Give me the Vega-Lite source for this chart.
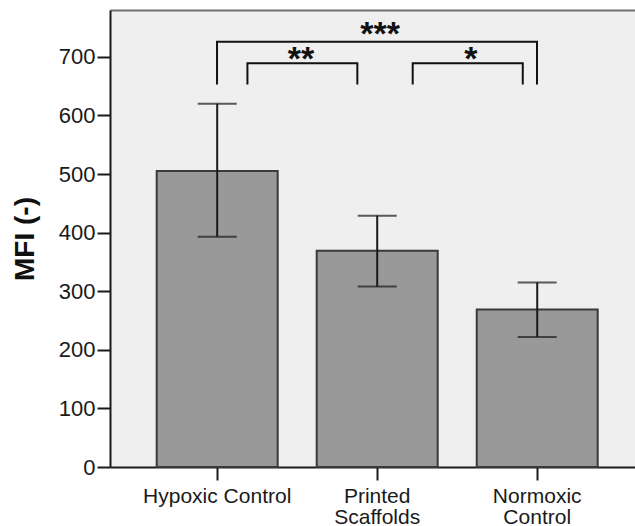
{
  "$schema": "https://vega.github.io/schema/vega-lite/v6.json",
  "width": 525,
  "height": 457,
  "autosize": {"type": "none"},
  "padding": {"left": 110, "top": 10, "right": 0, "bottom": 59},
  "background": "white",
  "config": {
    "view": {"fill": "#efefef", "stroke": null},
    "font": "Liberation Sans",
    "axisY": {
      "domainColor": "#1a1a1a", "domainWidth": 2,
      "tickColor": "#1a1a1a", "tickWidth": 2, "tickSize": 13,
      "labelFontSize": 22, "labelColor": "#1a1a1a", "labelPadding": 2,
      "grid": false,
      "titleFontSize": 28, "titleFontWeight": "bold", "titleColor": "#111111",
      "titleAngle": -90, "titleX": -85, "titleY": 228.5,
      "titleAlign": "center", "titleBaseline": "middle"
    }
  },
  "datasets": {
    "groups": [
      {"group": "Hypoxic Control", "mean": 505, "lo": 393, "hi": 620},
      {"group": "Printed Scaffolds", "mean": 369, "lo": 308, "hi": 429},
      {"group": "Normoxic Control", "mean": 269, "lo": 222, "hi": 315}
    ],
    "brackets": [
      {"bracket": "a", "ord": 1, "x": 0, "y": 653},
      {"bracket": "a", "ord": 2, "x": 0, "y": 726},
      {"bracket": "a", "ord": 3, "x": 2, "y": 726},
      {"bracket": "a", "ord": 4, "x": 2, "y": 653},
      {"bracket": "b", "ord": 1, "x": 0.19, "y": 653},
      {"bracket": "b", "ord": 2, "x": 0.19, "y": 689},
      {"bracket": "b", "ord": 3, "x": 0.877, "y": 689},
      {"bracket": "b", "ord": 4, "x": 0.877, "y": 653},
      {"bracket": "c", "ord": 1, "x": 1.223, "y": 653},
      {"bracket": "c", "ord": 2, "x": 1.223, "y": 689},
      {"bracket": "c", "ord": 3, "x": 1.911, "y": 689},
      {"bracket": "c", "ord": 4, "x": 1.911, "y": 653}
    ],
    "stars": [
      {"label": "***", "x": 1.019, "y": 721},
      {"label": "**", "x": 0.525, "y": 678},
      {"label": "*", "x": 1.586, "y": 678}
    ]
  },
  "layer": [
    {
      "data": {"name": "groups"},
      "encoding": {
        "x": {
          "field": "group", "type": "nominal", "sort": null,
          "scale": {"paddingInner": 0.244, "paddingOuter": 0.2625, "align": 0.556},
          "axis": {
            "title": null, "labelAngle": 0,
            "domainColor": "#1a1a1a", "domainWidth": 2,
            "tickColor": "#1a1a1a", "tickWidth": 2, "tickSize": 13,
            "labelFontSize": 21, "labelColor": "#1a1a1a", "labelPadding": 5,
            "labelLineHeight": 21, "labelBaseline": "top",
            "labelExpr": "datum.value == 'Printed Scaffolds' ? ['Printed', 'Scaffolds'] : datum.value == 'Normoxic Control' ? ['Normoxic', 'Control'] : datum.value"
          }
        }
      },
      "layer": [
        {
          "mark": {"type": "bar", "fill": "#999999", "stroke": "#3a3a3a", "strokeWidth": 2},
          "encoding": {
            "y": {"field": "mean", "type": "quantitative", "title": "MFI (-)",
                  "scale": {"domain": [0, 780], "nice": false},
                  "axis": {"values": [0, 100, 200, 300, 400, 500, 600, 700]}}
          }
        },
        {
          "mark": {"type": "rule", "color": "#1a1a1a", "strokeWidth": 2},
          "encoding": {
            "y": {"field": "lo", "type": "quantitative", "title": "MFI (-)", "scale": {"domain": [0, 780], "nice": false}},
            "y2": {"field": "hi"}
          }
        },
        {
          "mark": {"type": "tick", "orient": "horizontal", "color": "#1a1a1a", "size": 39, "thickness": 2},
          "encoding": {
            "y": {"field": "lo", "type": "quantitative", "title": "MFI (-)", "scale": {"domain": [0, 780], "nice": false}}
          }
        },
        {
          "mark": {"type": "tick", "orient": "horizontal", "color": "#1a1a1a", "size": 39, "thickness": 2},
          "encoding": {
            "y": {"field": "hi", "type": "quantitative", "title": "MFI (-)", "scale": {"domain": [0, 780], "nice": false}}
          }
        }
      ]
    },
    {
      "encoding": {
        "x": {
          "field": "x", "type": "quantitative",
          "scale": {"domain": [-0.669, 2.6125], "nice": false, "zero": false},
          "axis": {"orient": "top", "labels": false, "ticks": false, "grid": false, "title": null,
                   "domain": true, "domainColor": "#707070", "domainWidth": 2}
        },
        "y": {"field": "y", "type": "quantitative", "title": "MFI (-)", "scale": {"domain": [0, 780], "nice": false}}
      },
      "layer": [
        {
          "data": {"name": "brackets"},
          "mark": {"type": "line", "color": "#111111", "strokeWidth": 2, "strokeCap": "butt", "strokeJoin": "miter"},
          "encoding": {
            "detail": {"field": "bracket", "type": "nominal"},
            "order": {"field": "ord", "type": "quantitative"}
          }
        },
        {
          "data": {"name": "stars"},
          "mark": {"type": "text", "font": "Liberation Sans", "fontWeight": "bold", "fontSize": 34, "baseline": "alphabetic", "align": "center", "color": "#111111"},
          "encoding": {
            "text": {"field": "label", "type": "nominal"}
          }
        }
      ]
    }
  ],
  "resolve": {"scale": {"x": "independent"}, "axis": {"x": "independent"}}
}
